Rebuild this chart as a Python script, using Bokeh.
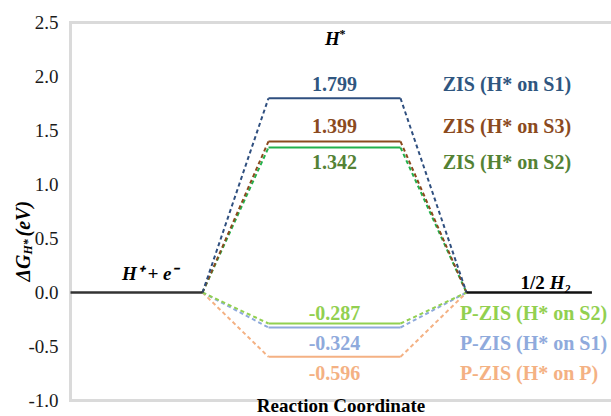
import math
from bokeh.plotting import figure
from bokeh.models import FixedTicker, LinearAxis
from bokeh.core.properties import value
from bokeh.embed import file_html
from bokeh.resources import INLINE

# ---- data ----
series_names = ["ZIS (H* on S1)", "ZIS (H* on S3)", "ZIS (H* on S2)",
                "P-ZIS (H* on S2)", "P-ZIS (H* on S1)", "P-ZIS (H* on P)"]
series_levels = [1.799, 1.399, 1.342, -0.287, -0.324, -0.596]
start_level = 0.0
end_level = 0.0
y_ticks = [-1.0, -0.5, 0.0, 0.5, 1.0, 1.5, 2.0, 2.5]
y_tick_labels = ["-1.0", "-0.5", "0.0", "0.5", "1.0", "1.5", "2.0", "2.5"]
x_title = "Reaction Coordinate"

# ---- styles ----
line_colors = ["#2F4F7F", "#8B4A1E", "#22B14C", "#92D050", "#8FAADC", "#F4B183"]
text_colors = ["#2F5680", "#8B4A1E", "#548235", "#92D050", "#8FAADC", "#F4B183"]
label_offsets = [-14, -15, 14, -10, 16, 16]
legend_x = [2.82, 2.82, 2.82, 2.95, 2.95, 2.95]
SERIF = "Liberation Serif"
PX_X = 132.0   # pixels per x unit
PX_Y = 108.0   # pixels per y unit

# reaction coordinate layout: initial [0,1], intermediate [1.5,2.5], final [3,3.95]
x0a, x0b = 0.0, 1.0
x1a, x1b = 1.5, 2.5
x2a, x2b = 3.0, 3.95
x_lo, x_hi = -70 / PX_X, 541 / PX_X
y_lo, y_hi = -1.0, 2.5
TOP_PX = 22
y_top = y_hi + TOP_PX / PX_Y
y_bottom = y_hi - (416 - TOP_PX) / PX_Y

p = figure(width=611, height=416, x_range=(x_lo, x_hi), y_range=(y_bottom, y_top),
           output_backend="svg", toolbar_location=None,
           x_axis_location=None, y_axis_location=None,
           min_border_left=0, min_border_right=0, min_border_top=0, min_border_bottom=0)
p.xgrid.visible = False
p.ygrid.visible = False
p.outline_line_color = None
p.background_fill_color = "white"
p.border_fill_color = "white"

ax = LinearAxis(fixed_location=0)
ax.ticker = FixedTicker(ticks=y_ticks)
ax.major_label_overrides = {t: s for t, s in zip(y_ticks, y_tick_labels)}
ax.axis_line_color = None
ax.major_tick_line_color = None
ax.minor_tick_line_color = None
ax.major_label_text_font = SERIF
ax.major_label_text_font_size = "19px"
ax.major_label_text_color = "#1a1a1a"
ax.major_label_standoff = 6
p.add_layout(ax, "left")

# plot-area box (left, top and bottom edges; right edge lies past the window)
bx = x_hi + 0.05
p.line([bx, 0, 0, bx], [y_hi, y_hi, y_lo, y_lo], line_color="#dadada", line_width=3,
       line_join="miter")

# connectors (dashed), lighter ones first
for lvl, col in reversed(list(zip(series_levels, line_colors))):
    p.line([x0b, x1a], [start_level, lvl], line_color=col, line_width=2, line_dash="4 3")
    p.line([x1b, x2a], [lvl, end_level], line_color=col, line_width=2, line_dash="4 3")
for lvl, col in reversed(list(zip(series_levels, line_colors))):
    p.line([x1a, x1b], [lvl, lvl], line_color=col, line_width=2)

# start / end levels
p.line([x0a, x0b], [start_level, start_level], line_color="#333333", line_width=2.4)
p.line([x2a, x2b], [end_level, end_level], line_color="#111111", line_width=2.4)

# value labels and series names
xm = (x1a + x1b) / 2
for lvl, name, col, off, lx in zip(series_levels, series_names, text_colors,
                                   label_offsets, legend_x):
    p.text(x=[xm], y=[lvl], text=["%.3f" % lvl], text_color=col, y_offset=off,
           text_align="center", text_baseline="middle", text_font=value(SERIF),
           text_font_style="bold", text_font_size="20px")
    p.text(x=[lx], y=[lvl], text=[name], text_color=col, y_offset=off,
           text_align="left", text_baseline="middle", text_font=value(SERIF),
           text_font_style="bold", text_font_size="20px")

# state labels
p.text(x=[0.6], y=[start_level], text=["H⁺ + e⁻"], y_offset=-19,
       text_align="center", text_baseline="middle", text_font=value(SERIF),
       text_font_style="bold italic", text_font_size="19px", text_color="black")
p.text(x=[xm], y=[y_hi], text=["H"], y_offset=16, x_offset=-2,
       text_align="center", text_baseline="middle", text_font=value(SERIF),
       text_font_style="bold italic", text_font_size="19px", text_color="black")
p.text(x=[xm], y=[y_hi], text=["*"], y_offset=11, x_offset=5,
       text_align="left", text_baseline="middle", text_font=value(SERIF),
       text_font_style="bold", text_font_size="12px", text_color="black")
p.text(x=[3.6], y=[end_level], text=["1/2"], y_offset=-10, x_offset=-1,
       text_align="right", text_baseline="middle", text_font=value(SERIF),
       text_font_style="bold", text_font_size="19px", text_color="black")
p.text(x=[3.6], y=[end_level], text=["H₂"], y_offset=-10, x_offset=4,
       text_align="left", text_baseline="middle", text_font=value(SERIF),
       text_font_style="bold italic", text_font_size="19px", text_color="black")

# x title
p.text(x=[x_hi / 2], y=[y_bottom], text=[x_title], y_offset=-1,
       text_align="center", text_baseline="bottom", text_font=value(SERIF),
       text_font_style="bold", text_font_size="19px", text_color="black")

# y title: ΔG_{H*}(eV), rotated
yx = -48 / PX_X
yy = y_hi - (281 - TOP_PX) / PX_Y
p.text(x=[yx], y=[yy], text=["ΔG"], angle=math.pi / 2, text_align="left",
       text_baseline="middle", text_font=value(SERIF), text_font_style="bold italic",
       text_font_size="20px", text_color="black")
p.text(x=[yx], y=[yy], text=["H*"], angle=math.pi / 2, y_offset=-27, x_offset=5,
       text_align="left", text_baseline="middle", text_font=value(SERIF),
       text_font_style="bold italic", text_font_size="12px", text_color="black")
p.text(x=[yx], y=[yy], text=["(eV)"], angle=math.pi / 2, y_offset=-45,
       text_align="left", text_baseline="middle", text_font=value(SERIF),
       text_font_style="bold italic", text_font_size="20px", text_color="black")

open("out.html", "w").write(file_html(p, INLINE))
